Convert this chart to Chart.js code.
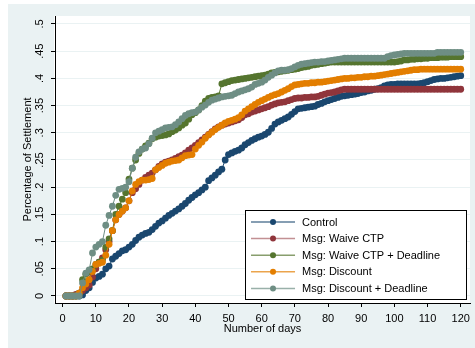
<!DOCTYPE html>
<html><head><meta charset="utf-8">
<script src="https://cdn.jsdelivr.net/npm/chart.js@4/dist/chart.umd.min.js"></script>
<style>html,body{margin:0;padding:0;background:#fff}canvas{display:block}</style>
</head><body>
<canvas id="c" width="475" height="348"></canvas>
<script>
const days = [1,2,3,4,5,6,7,8,9,10,11,12,13,14,15,16,17,18,19,20,21,22,23,24,25,26,27,28,29,30,31,32,33,34,35,36,37,38,39,40,41,42,43,44,45,46,47,48,49,50,51,52,53,54,55,56,57,58,59,60,61,62,63,64,65,66,67,68,69,70,71,72,73,74,75,76,77,78,79,80,81,82,83,84,85,86,87,88,89,90,91,92,93,94,95,96,97,98,99,100,101,102,103,104,105,106,107,108,109,110,111,112,113,114,115,116,117,118,119,120];

const seriesNames = ['Control','Msg: Waive CTP','Msg: Waive CTP + Deadline','Msg: Discount','Msg: Discount + Deadline'];

const control = [
0,0,0,0,0,0.002,0.01,0.015,0.025,0.033,
0.036,0.04,0.05,0.055,0.068,0.073,0.078,0.083,0.085,0.09,
0.095,0.102,0.108,0.112,0.115,0.117,0.122,0.128,0.134,0.138,
0.143,0.148,0.152,0.156,0.16,0.165,0.17,0.176,0.181,0.186,
0.19,0.195,0.2,0.212,0.217,0.222,0.228,0.233,0.25,0.26,
0.263,0.266,0.268,0.272,0.278,0.282,0.286,0.289,0.292,0.294,
0.297,0.301,0.308,0.316,0.32,0.323,0.326,0.329,0.334,0.339,
0.344,0.345,0.346,0.347,0.348,0.349,0.352,0.354,0.357,0.359,
0.361,0.363,0.365,0.367,0.368,0.369,0.37,0.371,0.372,0.374,
0.375,0.377,0.378,0.38,0.381,0.383,0.386,0.388,0.389,0.389,
0.39,0.39,0.39,0.39,0.39,0.39,0.39,0.391,0.392,0.394,
0.396,0.398,0.399,0.4,0.4,0.401,0.402,0.403,0.404,0.405];

const waiveCTP = [
0,0,0,0.003,0.005,0.01,0.015,0.02,0.035,0.05,
0.062,0.07,0.085,0.1,0.12,0.14,0.15,0.156,0.162,0.175,
0.19,0.197,0.205,0.213,0.218,0.222,0.226,0.232,0.238,0.243,
0.246,0.248,0.25,0.253,0.256,0.259,0.263,0.268,0.272,0.277,
0.282,0.287,0.292,0.297,0.302,0.307,0.311,0.314,0.316,0.318,
0.32,0.322,0.324,0.328,0.333,0.335,0.338,0.34,0.342,0.344,
0.346,0.348,0.351,0.353,0.355,0.356,0.357,0.359,0.361,0.363,
0.364,0.364,0.365,0.365,0.366,0.366,0.367,0.369,0.371,0.373,
0.374,0.375,0.377,0.379,0.38,0.38,0.38,0.38,0.38,0.38,
0.38,0.38,0.38,0.38,0.38,0.38,0.38,0.38,0.38,0.38,
0.38,0.38,0.38,0.38,0.38,0.38,0.38,0.38,0.38,0.38,
0.38,0.38,0.38,0.38,0.38,0.38,0.38,0.38,0.38,0.38];

const waiveCTPDeadline = [
0,0,0,0,0.005,0.03,0.04,0.045,0.05,0.058,
0.062,0.066,0.09,0.105,0.12,0.15,0.165,0.178,0.19,0.215,
0.235,0.25,0.262,0.27,0.276,0.281,0.289,0.292,0.294,0.295,
0.296,0.298,0.302,0.305,0.309,0.314,0.318,0.325,0.333,0.337,
0.342,0.35,0.358,0.363,0.365,0.366,0.368,0.39,0.392,0.394,
0.396,0.397,0.398,0.399,0.4,0.401,0.402,0.403,0.404,0.405,
0.406,0.408,0.41,0.411,0.412,0.413,0.414,0.415,0.416,0.417,
0.418,0.42,0.421,0.422,0.424,0.425,0.426,0.427,0.428,0.429,
0.43,0.43,0.43,0.43,0.43,0.43,0.43,0.43,0.43,0.43,
0.43,0.43,0.43,0.43,0.43,0.43,0.43,0.43,0.43,0.43,
0.431,0.432,0.434,0.434,0.435,0.435,0.436,0.436,0.437,0.437,
0.438,0.438,0.438,0.439,0.439,0.439,0.44,0.44,0.44,0.44];

const discount = [
0,0,0,0,0.005,0.015,0.022,0.03,0.045,0.058,
0.06,0.062,0.075,0.095,0.12,0.14,0.15,0.156,0.162,0.175,
0.193,0.205,0.21,0.213,0.213,0.214,0.216,0.232,0.236,0.24,
0.244,0.246,0.248,0.249,0.25,0.254,0.258,0.259,0.26,0.27,
0.277,0.283,0.29,0.296,0.301,0.306,0.31,0.314,0.318,0.321,
0.323,0.325,0.328,0.333,0.34,0.344,0.348,0.352,0.356,0.359,
0.362,0.365,0.368,0.37,0.372,0.375,0.378,0.381,0.385,0.388,
0.389,0.39,0.391,0.391,0.392,0.392,0.393,0.393,0.394,0.395,
0.396,0.397,0.398,0.399,0.4,0.4,0.401,0.401,0.402,0.402,
0.403,0.403,0.404,0.404,0.405,0.406,0.407,0.408,0.409,0.41,
0.411,0.412,0.413,0.414,0.415,0.416,0.416,0.417,0.417,0.417,
0.417,0.417,0.417,0.417,0.417,0.417,0.417,0.417,0.417,0.417];

const discountDeadline = [
0,0,0,0,0,0.024,0.042,0.048,0.079,0.09,
0.095,0.1,0.13,0.148,0.165,0.185,0.196,0.198,0.2,0.21,
0.235,0.255,0.265,0.27,0.272,0.28,0.29,0.3,0.303,0.306,
0.309,0.31,0.311,0.315,0.32,0.326,0.332,0.335,0.337,0.338,
0.342,0.347,0.351,0.356,0.36,0.362,0.364,0.366,0.367,0.368,
0.369,0.372,0.375,0.377,0.379,0.381,0.384,0.389,0.391,0.393,
0.397,0.402,0.406,0.41,0.414,0.415,0.415,0.416,0.418,0.421,
0.424,0.426,0.427,0.428,0.429,0.43,0.43,0.431,0.431,0.432,
0.433,0.434,0.435,0.436,0.437,0.437,0.437,0.437,0.437,0.437,
0.437,0.437,0.437,0.437,0.437,0.437,0.437,0.44,0.442,0.443,
0.444,0.445,0.446,0.446,0.446,0.446,0.446,0.446,0.446,0.446,
0.446,0.446,0.448,0.448,0.448,0.448,0.448,0.448,0.448,0.448];

const yTickValues = [0,0.05,0.1,0.15,0.2,0.25,0.3,0.35,0.4,0.45,0.5];
const yTickLabels = ['0','.05','.1','.15','.2','.25','.3','.35','.4','.45','.5'];
const xTickValues = [0,10,20,30,40,50,60,70,80,90,100,110,120];
const xTitle = 'Number of days';
const yTitle = 'Percentage of Settlement';

const allSeries = [control, waiveCTP, waiveCTPDeadline, discount, discountDeadline];
const colors = ['#1a476f','#90353b','#55752f','#e37e00','#6e8e84'];
const lineColors = ['rgba(26,71,111,0.7)','rgba(144,53,59,0.55)','rgba(85,117,47,0.7)','rgba(227,126,0,0.7)','rgba(110,142,132,0.7)'];

const FONT = '"Liberation Sans", Arial, Helvetica, sans-serif';
Chart.defaults.font.family = FONT;
Chart.defaults.font.size = 11;
Chart.defaults.color = '#000';

const bgPlugin = {
  id: 'bg',
  beforeDraw(chart) {
    const {ctx, chartArea: a} = chart;
    ctx.save();
    ctx.fillStyle = '#ffffff';
    ctx.fillRect(0, 0, chart.width, chart.height);
    ctx.fillStyle = '#eaf2f3';
    ctx.fillRect(8, 4, chart.width - 8, chart.height - 4);
    ctx.fillStyle = '#ffffff';
    ctx.fillRect(a.left - 1, a.top, a.right - a.left + 1, a.bottom - a.top);
    ctx.restore();
  }
};

const legendPlugin = {
  id: 'boxLegend',
  afterDatasetsDraw(chart) {
    const {ctx, chartArea: a} = chart;
    const w = 221, h = 89;
    const x0 = a.right - 4 - w, y0 = a.bottom - 4 - h;
    ctx.save();
    ctx.fillStyle = '#fff';
    ctx.fillRect(x0, y0, w, h);
    ctx.strokeStyle = '#000';
    ctx.lineWidth = 1;
    ctx.strokeRect(Math.round(x0) + 0.5, Math.round(y0) + 0.5, w, h);
    ctx.font = '11px ' + FONT;
    ctx.textBaseline = 'middle';
    ctx.textAlign = 'left';
    seriesNames.forEach((name, i) => {
      const cy = y0 + 12 + i * 16.6;
      ctx.strokeStyle = lineColors[i];
      ctx.lineWidth = 1.5;
      ctx.beginPath();
      ctx.moveTo(x0 + 6, cy);
      ctx.lineTo(x0 + 50, cy);
      ctx.stroke();
      ctx.fillStyle = colors[i];
      ctx.beginPath();
      ctx.arc(x0 + 28, cy, 3, 0, Math.PI * 2);
      ctx.fill();
      ctx.fillStyle = '#000';
      ctx.fillText(name, x0 + 57, cy + 0.5);
    });
    ctx.restore();
  }
};

const datasets = allSeries.map((vals, i) => ({
  label: seriesNames[i],
  data: days.map((d, k) => ({x: d, y: vals[k]})),
  borderColor: colors[i],
  backgroundColor: colors[i],
  borderWidth: 1,
  pointRadius: 3.4,
  pointBorderWidth: 0,
  pointBackgroundColor: colors[i],
  tension: 0,
  order: allSeries.length - i
}));

new Chart(document.getElementById('c'), {
  type: 'line',
  data: { datasets },
  options: {
    responsive: false,
    animation: false,
    devicePixelRatio: 1,
    layout: { padding: { left: 0, top: 16, right: 3, bottom: 0 } },
    plugins: { legend: { display: false }, tooltip: { enabled: false } },
    scales: {
      x: {
        type: 'linear',
        min: -2.3, max: 122.8,
        afterBuildTicks(s) { s.ticks = xTickValues.map(v => ({value: v})); },
        afterFit(s) { s.height = 45; },
        ticks: { autoSkip: false, maxRotation: 0, minRotation: 0, padding: 5, color: '#000',
                 callback: v => String(v), font: { size: 11 } },
        grid: { drawOnChartArea: false, drawTicks: true, tickLength: 4, tickColor: '#000', tickWidth: 1 },
        border: { display: true, color: '#000', width: 1 },
        title: { display: true, text: xTitle, color: '#000', font: { size: 11 }, padding: { top: 0, bottom: 12 } }
      },
      y: {
        type: 'linear',
        min: -0.0129, max: 0.5147,
        afterBuildTicks(s) { s.ticks = yTickValues.map(v => ({value: v})); },
        afterFit(s) { s.width = 55; },
        ticks: { autoSkip: false, minRotation: 90, maxRotation: 90, crossAlign: 'center', padding: 3, color: '#000',
                 callback: (v) => { const k = yTickValues.findIndex(t => Math.abs(t - v) < 1e-9); return k >= 0 ? yTickLabels[k] : ''; },
                 font: { size: 11 } },
        grid: { drawOnChartArea: true, color: '#eaf2f3', lineWidth: 1, drawTicks: true, tickLength: 4, tickColor: '#000', tickWidth: 1 },
        border: { display: true, color: '#000', width: 1 },
        title: { display: true, text: yTitle, color: '#000', font: { size: 11 }, padding: { top: 21, bottom: 0 } }
      }
    }
  },
  plugins: [bgPlugin, legendPlugin]
});
</script>
</body></html>
